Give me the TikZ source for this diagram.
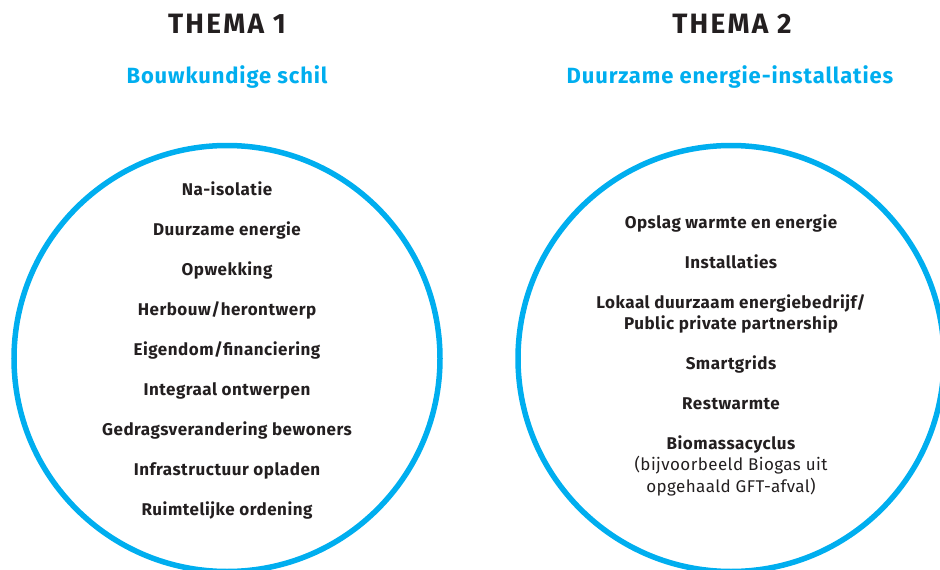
\documentclass[tikz,border=0pt]{standalone}
\usepackage{fontspec}
\setmainfont{Fira Sans}
\definecolor{cyanblue}{HTML}{00AEEF}
\definecolor{ink}{HTML}{231F20}
\tikzset{
  ring/.style={draw=cyanblue, line width=5.5pt},
  item/.style={anchor=base, inner sep=0pt, text=ink, font=\fontsize{17}{20}\selectfont\bfseries\addfontfeatures{LetterSpace=3}},
  note/.style={anchor=base, inner sep=0pt, text=ink, font=\fontsize{17}{20}\selectfont\addfontfeatures{LetterSpace=2.5}},
  thema/.style={anchor=base, inner sep=0pt, text=ink, font=\fontsize{28}{32}\selectfont\bfseries\addfontfeatures{LetterSpace=8}},
  sub/.style={anchor=base, inner sep=0pt, text=cyanblue, font=\fontsize{22}{26}\selectfont\bfseries\addfontfeatures{LetterSpace=4}}
}
\begin{document}
\begin{tikzpicture}[x=1pt,y=-1pt]
\useasboundingbox (0,0) rectangle (940,570);
\begin{scope}
\clip (0,0) rectangle (940,570);
\draw[ring] (227,358.5) circle[radius=213];
\draw[ring] (731,358.5) circle[radius=213];
\end{scope}
\node[thema] (t1) at (227,34) {THEMA 1};
\node[sub] (s1) at (227,83.5) {Bouwkundige schil};
\node[thema] (t2) at (732,34) {THEMA 2};
\node[sub] (s2) at (730,83.5) {Duurzame energie-installaties};
\node[item] (a1) at (227,195) {Na-isolatie};
\node[item] (a2) at (227,235) {Duurzame energie};
\node[item] (a3) at (227,275) {Opwekking};
\node[item] (a4) at (227,315) {Herbouw/herontwerp};
\node[item] (a5) at (227,355) {Eigendom/financiering};
\node[item] (a6) at (227,395) {Integraal ontwerpen};
\node[item] (a7) at (227,435) {Gedragsverandering bewoners};
\node[item] (a8) at (227,475) {Infrastructuur opladen};
\node[item] (a9) at (227,515) {Ruimtelijke ordening};
\node[item] (b1) at (731,228) {Opslag warmte en energie};
\node[item] (b2) at (731,268) {Installaties};
\node[item] (b3) at (731,308) {Lokaal duurzaam energiebedrijf/};
\node[item] (b4) at (731,329) {Public private partnership};
\node[item] (b5) at (731,369) {Smartgrids};
\node[item] (b6) at (731,409) {Restwarmte};
\node[item] (b7) at (731,449) {Biomassacyclus};
\node[note] (b8) at (731,470) {(bijvoorbeeld Biogas uit};
\node[note] (b9) at (731,492) {opgehaald GFT-afval)};
\end{tikzpicture}
\end{document}
